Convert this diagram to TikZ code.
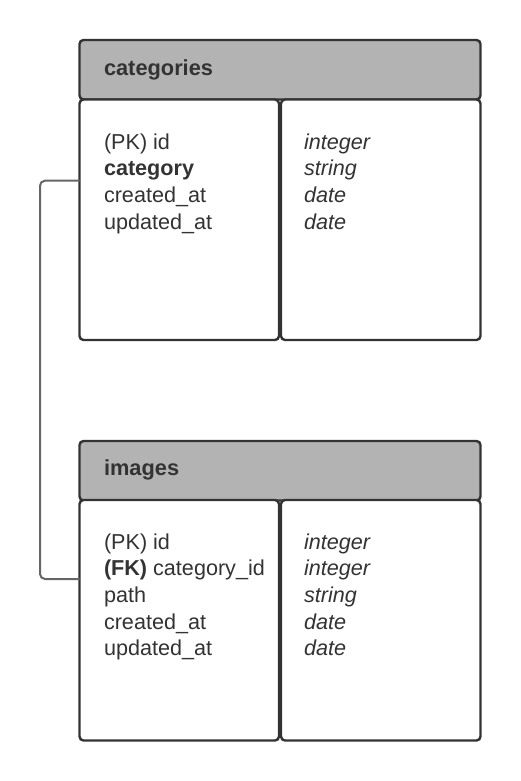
\documentclass[tikz,border=0pt]{standalone}
\usepackage{fontspec}
\setmainfont{Liberation Sans}
\begin{document}
\begin{tikzpicture}[x=1pt,y=-1pt,
  every node/.style={inner sep=0pt, outer sep=0pt},
  hdr/.style={draw=bordc, line width=2.4pt, fill=hdrfill, rounded corners=4pt, anchor=north west, minimum width=401pt, minimum height=59.5pt},
  cell/.style={draw=bordc, line width=2.4pt, fill=white, rounded corners=4pt, anchor=north west, minimum width=199.5pt, minimum height=240.5pt},
  ttl/.style={anchor=west, text=txtc, font=\fontsize{21.8}{25}\selectfont\bfseries},
  fld/.style={anchor=base west, text=txtc, font=\fontsize{21.6}{25}\selectfont},
  typ/.style={anchor=base west, text=txtc, font=\fontsize{21.6}{25}\selectfont\itshape},
  conn/.style={draw=connc, line width=2pt, rounded corners=5pt}]
\definecolor{bordc}{HTML}{333333}
\definecolor{hdrfill}{HTML}{B3B3B3}
\definecolor{txtc}{HTML}{333333}
\definecolor{connc}{HTML}{666666}
\useasboundingbox (0,0) rectangle (520,781);

% categories table
\node[hdr] (cathead) at (79.5,40) {};
\node[cell] (catkeys) at (79.5,99.5) {};
\node[cell] (cattypes) at (281,99.5) {};
\node[ttl] (cattitle) at (104,69.5) {categories};
\node[fld] (c1) at (104,149) {(PK) id};
\node[fld] (c2) at (104,175.7) {\bfseries category};
\node[fld] (c3) at (104,202.4) {created\_at};
\node[fld] (c4) at (104,229) {updated\_at};
\node[typ] (t1) at (304,149) {integer};
\node[typ] (t2) at (304,175.7) {string};
\node[typ] (t3) at (304,202.4) {date};
\node[typ] (t4) at (304,229) {date};

% images table
\node[hdr] (imghead) at (79.5,441) {};
\node[cell] (imgkeys) at (79.5,500) {};
\node[cell] (imgtypes) at (281,500) {};
\node[ttl] (imgtitle) at (104,469.5) {images};
\node[fld] (i1) at (104,549) {(PK) id};
\node[fld] (i2) at (104,575.7) {\bfseries (FK)\mdseries{} category\_id};
\node[fld] (i3) at (104,602.4) {path};
\node[fld] (i4) at (104,629) {created\_at};
\node[fld] (i5) at (104,655.7) {updated\_at};
\node[typ] (u1) at (304,549) {integer};
\node[typ] (u2) at (304,575.7) {integer};
\node[typ] (u3) at (304,602.4) {string};
\node[typ] (u4) at (304,629) {date};
\node[typ] (u5) at (304,655.7) {date};

% connector
\draw[conn] (catkeys.west |- 0,180.7) -- (40,180.7) -- (40,579) -- (imgkeys.west |- 0,579);
\end{tikzpicture}
\end{document}
